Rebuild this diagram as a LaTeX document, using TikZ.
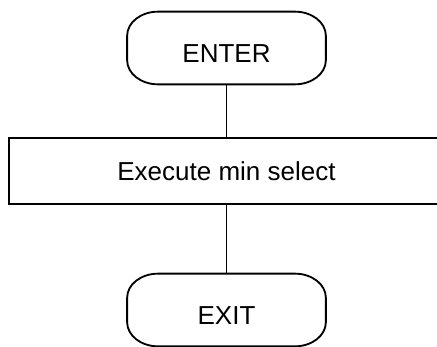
\documentclass[tikz,border=0pt]{standalone}
\usepackage{fontspec}
\setmainfont{Liberation Sans}
\usepackage{tikz}
\usetikzlibrary{positioning}

\begin{document}
\begin{tikzpicture}[
      font=\fontsize{14.8}{18}\selectfont,
      terminal/.style={rectangle, minimum width=3.96cm, minimum height=1.44cm, text height=0.57cm, text depth=0cm},
      process/.style={rectangle, draw, line width=1.15pt, minimum width=8.7cm, minimum height=1.32cm},
      outline/.style={line width=1.05pt},
      flow/.style={draw, line width=1pt}]

      \useasboundingbox (0,0) rectangle (8.74,-6.94);

      \node[terminal] (enter) at (4.53,-0.96) {ENTER};
      \node[process] (minsel) at (4.53,-3.42) {Execute min select};
      \node[terminal] (exit) at (4.53,-6.2) {EXIT};

      % Terminal outlines (oval corners)
      \foreach \n in {enter, exit} {
        \draw[outline] ([xshift=0.62cm]\n.north west) -- ([xshift=-0.62cm]\n.north east)
          arc[start angle=90, end angle=0, x radius=0.62cm, y radius=0.48cm]
          -- ([yshift=0.48cm]\n.south east)
          arc[start angle=0, end angle=-90, x radius=0.62cm, y radius=0.48cm]
          -- ([xshift=0.62cm]\n.south west)
          arc[start angle=270, end angle=180, x radius=0.62cm, y radius=0.48cm]
          -- ([yshift=-0.48cm]\n.north west)
          arc[start angle=180, end angle=90, x radius=0.62cm, y radius=0.48cm] -- cycle;
      }

      % Connectors
      \draw[flow] (enter.south) -- (minsel.north);
      \draw[flow] (minsel.south) -- (exit.north);
    \end{tikzpicture}
\end{document}
